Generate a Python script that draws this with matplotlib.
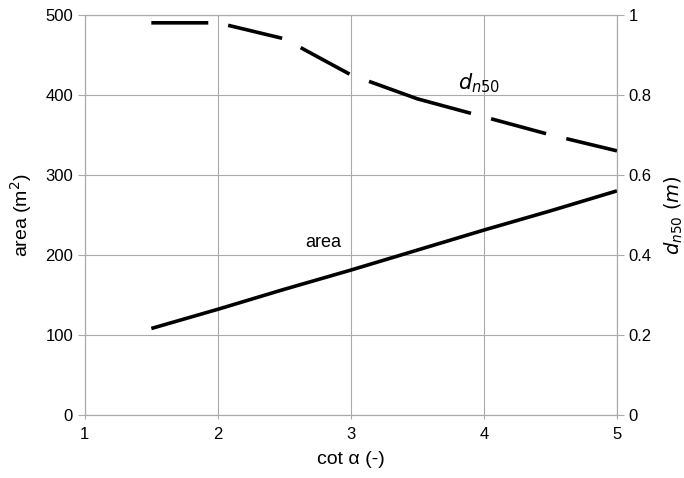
import matplotlib
matplotlib.use('Agg')
import matplotlib.pyplot as plt

plt.rcParams['font.family'] = ['Liberation Sans', 'DejaVu Sans']
plt.rcParams['mathtext.fontset'] = 'dejavusans'
plt.rcParams['lines.scale_dashes'] = False

# data
cot_alpha = [1.5, 2.0, 2.5, 3.0, 3.5, 4.0, 4.5, 5.0]
area = [108, 132, 157, 181, 206, 231, 255, 280]
dn50 = [0.98, 0.98, 0.94, 0.85, 0.79, 0.745, 0.70, 0.66]

x_ticks = [1, 2, 3, 4, 5]
area_ticks = [0, 100, 200, 300, 400, 500]
dn50_ticks = [0, 0.2, 0.4, 0.6, 0.8, 1.0]
dn50_labels = ['0', '0.2', '0.4', '0.6', '0.8', '1']

fig = plt.figure(figsize=(6.84, 4.78), dpi=100)
ax = fig.add_axes([0.124, 0.132, 0.778, 0.837])
ax2 = ax.twinx()

grid_col = '#aaaaaa'
ax.plot(cot_alpha, area, color='black', lw=2.6, solid_capstyle='butt')
# irregular long-dash like the original (points)
dash_seq = (41, 14.5, 40, 15, 40, 15, 77, 15, 41, 15, 41, 15)
ax2.plot(cot_alpha, dn50, color='black', lw=2.6, dashes=dash_seq,
         dash_capstyle='butt')

ax.set_xlim(1, 5)
ax.set_ylim(0, 500)
ax2.set_ylim(0, 1)
ax.set_xticks(x_ticks)
ax.set_xticklabels([str(v) for v in x_ticks])
ax.set_yticks(area_ticks)
ax2.set_yticks(dn50_ticks)
ax2.set_yticklabels(dn50_labels)

ax.grid(True, color=grid_col, lw=0.8)
for a in (ax, ax2):
    for s in a.spines.values():
        s.set_color(grid_col)
        s.set_linewidth(0.8)
    a.tick_params(colors=grid_col, labelcolor='black', labelsize=12,
                  length=5, width=0.8)
ax.tick_params(axis='x', length=3, pad=6)

ax.set_xlabel('cot α (-)', fontsize=14, labelpad=6)
ax.set_ylabel(r'area (m$^2$)', fontsize=14, labelpad=8)
ax2.set_ylabel(r'$\mathit{d_{n50}\ (m)}$', fontsize=14, labelpad=8)

ax.text(2.79, 216, 'area', fontsize=13, ha='center', va='center')
ax2.text(3.96, 0.83, r'$\mathit{d_{n50}}$', fontsize=15, ha='center', va='center')

fig.savefig('out.png', dpi=100)
